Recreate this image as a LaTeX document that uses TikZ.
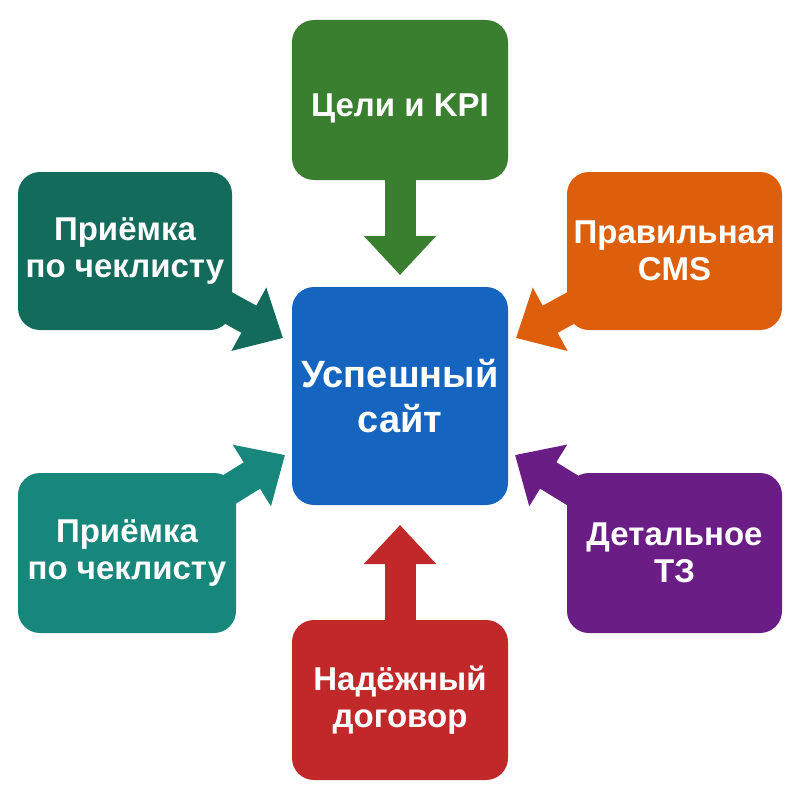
\documentclass[tikz,border=0pt]{standalone}
\usepackage{fontspec}
\setmainfont{Liberation Sans}
\usetikzlibrary{arrows.meta}
\pgfdeclarelayer{background}
\pgfsetlayers{background,main}
\definecolor{cgreen}{HTML}{3A7F30}
\definecolor{cteal}{HTML}{136B5C}
\definecolor{cteall}{HTML}{16877A}
\definecolor{corange}{HTML}{DD5F0B}
\definecolor{cpurple}{HTML}{6B1D86}
\definecolor{cred}{HTML}{C0282A}
\definecolor{cblue}{HTML}{1565C0}
\tikzset{
  boxst/.style={rounded corners=22pt, inner sep=0pt, align=center, text=white,
    minimum width=216pt, minimum height=160pt,
    font=\bfseries\fontsize{33}{37}\selectfont,
    execute at begin node={\rule{0pt}{40pt}}},
  arr/.style={line width=31pt, -{Triangle[length=39pt,width=70pt]}},
}
\begin{document}
\begin{tikzpicture}[x=1pt,y=-1pt]
\useasboundingbox (0,0) rectangle (800,800);
\path (400,100) node[boxst, fill=cgreen] (top) {Цели и KPI};
\path (400,700) node[boxst, fill=cred] (bot) {Надёжный\\договор};
\path (125,251) node[boxst, fill=cteal, minimum width=214pt, minimum height=158pt] (tl) {Приёмка\\по чеклисту};
\path (127,553) node[boxst, fill=cteall, minimum width=218pt] (bl) {Приёмка\\по чеклисту};
\path (674.5,251) node[boxst, fill=corange, minimum width=215pt, minimum height=158pt] (tr) {Правильная\\CMS};
\path (674.5,553) node[boxst, fill=cpurple, minimum width=215pt] (br) {Детальное\\ТЗ};
\path (400,396) node[boxst, fill=cblue, minimum height=218pt,
  font=\bfseries\fontsize{38}{45}\selectfont,
  execute at begin node={\rule{0pt}{46pt}}] (ctr) {Успешный\\сайт};
\coordinate (tT) at (400,275);
\coordinate (bT) at (400,525);
\coordinate (tlT) at (283,338);
\coordinate (blT) at (285,455);
\coordinate (trT) at (516,338);
\coordinate (brT) at (515,455);
\begin{pgfonlayer}{background}
\draw[arr, cgreen] (top.center) -- (tT);
\draw[arr, cred] (bot.center) -- (bT);
\draw[arr, cteal] (tl.center) -- (tlT);
\draw[arr, cteall] (bl.center) -- (blT);
\draw[arr, corange] (tr.center) -- (trT);
\draw[arr, cpurple] (br.center) -- (brT);
\end{pgfonlayer}
\end{tikzpicture}
\end{document}
